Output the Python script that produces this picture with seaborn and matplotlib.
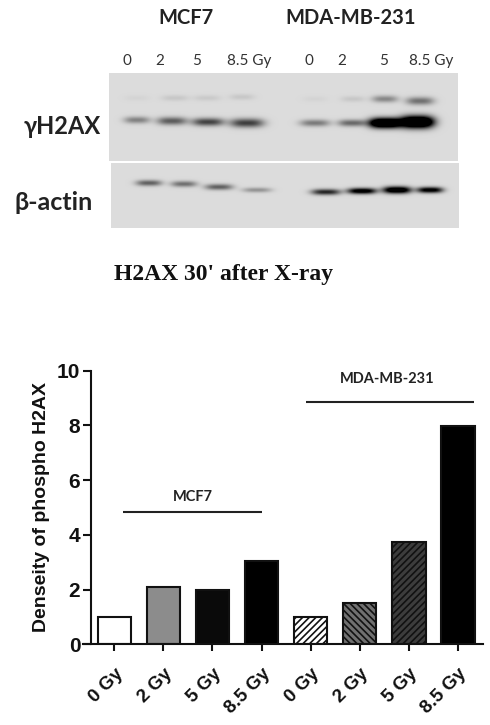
import matplotlib
matplotlib.use('Agg')
import matplotlib.pyplot as plt
import numpy as np
import pandas as pd
import seaborn as sns

# densitometry values
dose_labels = ['0 Gy', '2 Gy', '5 Gy', '8.5 Gy', '0 Gy', '2 Gy', '5 Gy', '8.5 Gy']
density = [1.0, 2.1, 2.0, 3.05, 1.0, 1.5, 3.75, 7.97]
y_ticks = [0, 2, 4, 6, 8, 10]

# band strength per lane on the blots (how far it darkens the grey background)
gh2ax_main = [0.35, 0.5, 0.6, 0.62, 0.38, 0.45, 1.5, 1.6]
gh2ax_upper = [0.03, 0.08, 0.07, 0.08, 0.03, 0.08, 0.33, 0.42]
actin = [0.48, 0.42, 0.48, 0.28, 0.72, 1.0, 1.15, 0.95]

W, H = 490, 725
BG = 0.86


def px_axes(fig, x0, y0, x1, y1):
    # axes from picture pixels, y counted from the top
    return fig.add_axes([x0 / W, 1 - y1 / H, (x1 - x0) / W, (y1 - y0) / H])


def blot(fig, box, lanes):
    x0, y0, x1, y1 = box
    xx, yy = np.meshgrid(np.arange(x0, x1) + 0.5, np.arange(y0, y1) + 0.5)
    img = np.full(xx.shape, BG)
    for cx, cy, w, h, s in lanes:
        prof = np.exp(-np.abs((xx - cx) / (w / 2)) ** 3 - np.abs((yy - cy) / (h / 2)) ** 2)
        img -= s * prof
    ax = px_axes(fig, x0, y0, x1, y1)
    sns.heatmap(img, cmap='gray', vmin=0, vmax=1, cbar=False, ax=ax,
                xticklabels=False, yticklabels=False)
    ax.set_xlabel('')
    ax.set_ylabel('')


sns.set_theme(style='ticks')
plt.rcParams['font.family'] = ['Liberation Sans', 'DejaVu Sans']
plt.rcParams['hatch.linewidth'] = 1.2
fig = plt.figure(figsize=(W / 100, H / 100), dpi=100, facecolor='white')

# blots
main_x = [137, 172, 208, 247, 315, 352, 385, 417]
main_y = [120, 121, 122, 123, 123, 123, 123, 122]
main_w = [26, 30, 32, 34, 30, 28, 32, 34]
main_h = [7, 8, 8, 9, 7, 7, 10, 12]
upper_x = [137, 175, 207, 242, 315, 353, 385, 420]
upper_y = [98, 98, 98, 97, 99, 99, 99, 101]
upper_w = [25, 27, 27, 25, 25, 24, 26, 28]
upper_h = [6, 6, 6, 6, 6, 6, 7, 8]
lanes_top = list(zip(main_x, main_y, main_w, main_h, gh2ax_main))
lanes_top += list(zip(upper_x, upper_y, upper_w, upper_h, gh2ax_upper))
blot(fig, (109, 73, 458, 161), lanes_top)

actin_x = [149, 184, 219, 257, 326, 362, 397, 430]
actin_y = [183, 184, 187, 190, 192, 191, 190, 190]
actin_w = [26, 26, 28, 29, 29, 29, 28, 26]
actin_h = [6, 6, 6, 5, 6, 6, 7, 6]
blot(fig, (111, 163, 459, 228), list(zip(actin_x, actin_y, actin_w, actin_h, actin)))


def label(x, y, s, **kw):
    fig.text(x / W, 1 - y / H, s, ha=kw.pop('ha', 'center'), va='center', **kw)


lato = ['Lato', 'DejaVu Sans']
label(186, 18, 'MCF7', family=lato, fontweight='bold', fontsize=14.5, color='#222222')
label(351, 18, 'MDA-MB-231', family=lato, fontweight='bold', fontsize=14.5, color='#222222')
for xp, s in zip([127, 160, 197, 249, 309, 342, 384, 431],
                 ['0', '2', '5', '8.5 Gy', '0', '2', '5', '8.5 Gy']):
    label(xp, 61, s, family=lato, fontsize=11, color='#333333')
label(62, 127, 'γH2AX', family=lato, fontweight='bold', fontsize=17, color='#222222')
label(54, 202, 'β-actin', family=lato, fontweight='bold', fontsize=18, color='#222222')
label(224, 274, "H2AX 30' after X-ray", family=['Liberation Serif', 'DejaVu Serif'],
      fontweight='bold', fontsize=17, color='#111111')

# bar chart
df = pd.DataFrame({'pos': range(len(density)), 'density': density})
ax = px_axes(fig, 83, 370.7, 483, 644.3)
ax.patch.set_alpha(0)
sns.barplot(data=df, x='pos', y='density', width=0.68, ax=ax, errorbar=None)

faces = ['white', '#8c8c8c', '#0a0a0a', 'black', 'white', '#707070', '#3c3c3c', 'black']
hatches = [None, None, None, None, '/////', '\\\\\\\\\\', '/////', None]
for bar, fc, ht in zip(ax.patches, faces, hatches):
    bar.set_facecolor(fc)
    bar.set_edgecolor('#111111')
    bar.set_linewidth(1.5)
    if ht:
        bar.set_hatch(ht)

ax.set_xlim(-0.637, 7.51)
ax.set_ylim(0, 10)
ax.spines['top'].set_visible(False)
ax.spines['right'].set_visible(False)
ax.spines['left'].set_position(('data', -0.48))
ax.spines['left'].set_linewidth(1.5)
ax.spines['bottom'].set_linewidth(1.5)
ax.spines['left'].set_color('#111111')
ax.spines['bottom'].set_color('#111111')
ax.set_yticks(y_ticks)
ax.set_xticks(df['pos'])
ax.set_xticklabels(dose_labels, rotation=45, ha='right', rotation_mode='anchor',
                   fontsize=13.5, fontweight='bold', color='#111111')
ax.tick_params(axis='x', length=5, width=1.5, color='#111111', pad=10)
ax.tick_params(axis='y', length=5.5, width=1.5, color='#111111', pad=2,
               labelsize=15, labelcolor='#111111')
for t in ax.get_yticklabels():
    t.set_fontweight('bold')
ax.set_xlabel('')
ax.set_ylabel('')
label(41, 507, 'Denseity of phospho H2AX', rotation=90, fontweight='bold', fontsize=14,
      color='#111111')

# cell line brackets
ax.hlines(4.83, 0.18, 3.0, color='#222222', lw=1.5)
ax.hlines(8.87, 3.9, 7.32, color='#222222', lw=1.5)
ax.text(1.6, 5.4, 'MCF7', ha='center', va='center', family=lato, fontweight='bold',
        fontsize=10.5, color='#222222')
ax.text(5.55, 9.7, 'MDA-MB-231', ha='center', va='center', family=lato, fontweight='bold',
        fontsize=10.5, color='#222222')

fig.savefig('out.png', dpi=100)
